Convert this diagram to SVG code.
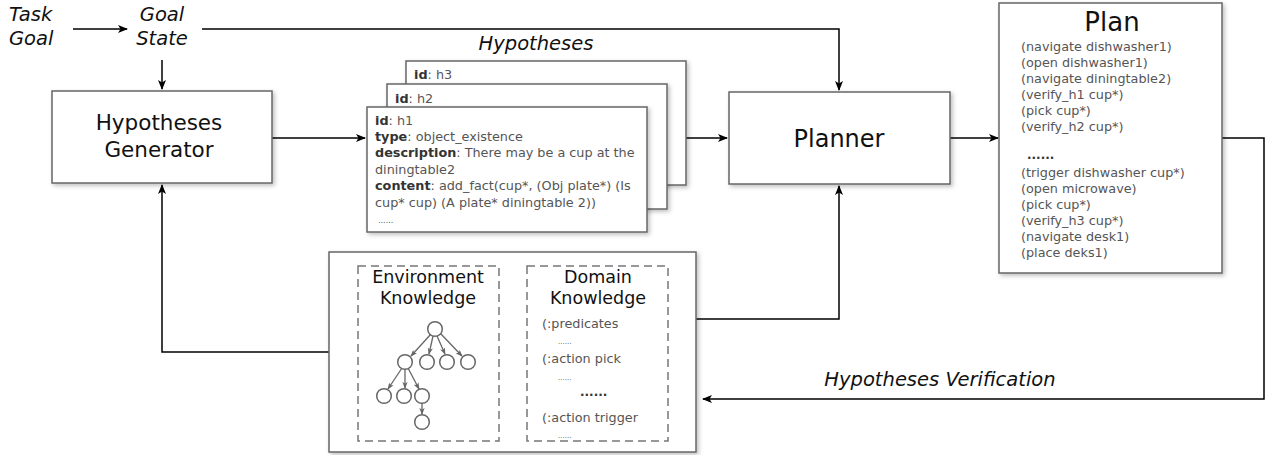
<svg xmlns="http://www.w3.org/2000/svg" width="1268" height="455" viewBox="0 0 1268 455">
<style>
text{font-family:"DejaVu Sans","Noto Sans",sans-serif;fill:#111}
.box{fill:#fff;stroke:#666;stroke-width:1.5;filter:url(#sh)}
.dash{fill:none;stroke:#777;stroke-width:1.5;stroke-dasharray:8,5}
.conn{fill:none;stroke:#000;stroke-width:1.5}
.it{font-style:italic;font-size:19.5px}
.big{font-size:21.5px;text-anchor:middle}
.mid{font-size:17.5px;text-anchor:middle}
.sm{font-size:12.8px;fill:#555}
.bold{font-weight:bold;fill:#333}
.tree circle{fill:#fff;stroke:#666;stroke-width:1.5}
.tree line{stroke:#666;stroke-width:1.3}
</style>
<defs>
<filter id="sh" x="-10%" y="-10%" width="130%" height="130%">
<feDropShadow dx="2" dy="2" stdDeviation="2" flood-color="#000" flood-opacity="0.25"/>
</filter>
<marker id="ar" viewBox="0 0 10 8" refX="9" refY="4" markerWidth="10" markerHeight="8" markerUnits="userSpaceOnUse" orient="auto">
<path d="M0,0 L10,4 L0,8 L2.5,4 z" fill="#000"/>
</marker>
<marker id="ag" viewBox="0 0 8 6" refX="7" refY="3" markerWidth="7" markerHeight="6" markerUnits="userSpaceOnUse" orient="auto">
<path d="M0,0 L8,3 L0,6 L2,3 z" fill="#666"/>
</marker>
</defs>

<g id="connectors">
<path class="conn" d="M73,29 H127" marker-end="url(#ar)"/>
<path class="conn" d="M162,60 V89" marker-end="url(#ar)"/>
<path class="conn" d="M202,29 H839 V90" marker-end="url(#ar)"/>
<path class="conn" d="M272,138 H365" marker-end="url(#ar)"/>
<path class="conn" d="M686,138 H727" marker-end="url(#ar)"/>
<path class="conn" d="M950,138 H998" marker-end="url(#ar)"/>
<path class="conn" d="M1222,138 H1264 V399 H703" marker-end="url(#ar)"/>
<path class="conn" d="M696,319 H839 V186" marker-end="url(#ar)"/>
<path class="conn" d="M329,352 H162 V185" marker-end="url(#ar)"/>
</g>

<g id="labels">
<text class="it" x="9" y="21">Task</text>
<text class="it" x="9" y="45">Goal</text>
<text class="it" x="162" y="21" text-anchor="middle">Goal</text>
<text class="it" x="162" y="45" text-anchor="middle">State</text>
<text class="it" x="536" y="50" text-anchor="middle">Hypotheses</text>
<text class="it" x="940" y="386" text-anchor="middle">Hypotheses Verification</text>
</g>

<g id="generator">
<rect class="box" x="52" y="91" width="220" height="92"/>
<text class="big" x="159" y="130">Hypotheses</text>
<text class="big" x="159" y="157">Generator</text>
</g>

<g id="h3">
<rect class="box" x="406" y="61" width="280" height="124"/>
<text class="sm" x="414" y="79"><tspan class="bold">id</tspan>: h3</text>
</g>
<g id="h2">
<rect class="box" x="387" y="84" width="280" height="125"/>
<text class="sm" x="395" y="103"><tspan class="bold">id</tspan>: h2</text>
</g>
<g id="h1">
<rect class="box" x="367" y="107" width="280" height="125"/>
<text class="sm" x="375" y="125"><tspan class="bold">id</tspan>: h1</text>
<text class="sm" x="375" y="141"><tspan class="bold">type</tspan>: object_existence</text>
<text class="sm" x="375" y="157"><tspan class="bold">description</tspan>: There may be a cup at the</text>
<text class="sm" x="375" y="174">diningtable2</text>
<text class="sm" x="375" y="190"><tspan class="bold">content</tspan>: add_fact(cup*, (Obj plate*) (Is</text>
<text class="sm" x="375" y="207">cup* cup) (A plate* diningtable 2))</text>
<text class="sm" x="378" y="223" style="font-size:8px">......</text>
</g>

<g id="planner">
<rect class="box" x="729" y="92" width="221" height="92"/>
<text class="big" x="839" y="147" style="font-size:24px">Planner</text>
</g>

<g id="plan">
<rect class="box" x="999" y="3" width="223" height="270"/>
<text x="1112" y="31" style="font-size:26px;text-anchor:middle">Plan</text>
<text class="sm" x="1021" y="51">(navigate dishwasher1)</text>
<text class="sm" x="1021" y="67">(open dishwasher1)</text>
<text class="sm" x="1021" y="83">(navigate diningtable2)</text>
<text class="sm" x="1021" y="99">(verify_h1 cup*)</text>
<text class="sm" x="1021" y="115">(pick cup*)</text>
<text class="sm" x="1021" y="131">(verify_h2 cup*)</text>
<text class="bold" x="1027" y="159" style="font-size:12px">......</text>
<text class="sm" x="1021" y="177">(trigger dishwasher cup*)</text>
<text class="sm" x="1021" y="193">(open microwave)</text>
<text class="sm" x="1021" y="209">(pick cup*)</text>
<text class="sm" x="1021" y="225">(verify_h3 cup*)</text>
<text class="sm" x="1021" y="241">(navigate desk1)</text>
<text class="sm" x="1021" y="257">(place deks1)</text>
</g>

<g id="knowledge">
<rect class="box" x="329" y="252" width="367" height="200"/>
<rect class="dash" x="358" y="266" width="141" height="175"/>
<rect class="dash" x="527" y="266" width="141" height="175"/>
<text class="mid" x="428" y="283">Environment</text>
<text class="mid" x="428" y="304">Knowledge</text>
<text class="mid" x="598" y="283">Domain</text>
<text class="mid" x="598" y="304">Knowledge</text>
<text class="sm" x="542" y="328">(:predicates</text>
<text class="sm" x="558" y="344" style="font-size:7px">......</text>
<text class="sm" x="542" y="363">(:action pick</text>
<text class="sm" x="558" y="380" style="font-size:7px">......</text>
<text class="bold" x="580" y="396" style="font-size:12px">......</text>
<text class="sm" x="542" y="422">(:action trigger</text>
<text class="sm" x="558" y="438" style="font-size:7px">......</text>
<g class="tree">
<line x1="431" y1="334" x2="411" y2="356" marker-end="url(#ag)"/>
<line x1="433" y1="336" x2="429" y2="354" marker-end="url(#ag)"/>
<line x1="437" y1="336" x2="445" y2="354" marker-end="url(#ag)"/>
<line x1="440" y1="333" x2="462" y2="356" marker-end="url(#ag)"/>
<line x1="402" y1="368" x2="388" y2="389" marker-end="url(#ag)"/>
<line x1="405" y1="369" x2="405" y2="388" marker-end="url(#ag)"/>
<line x1="408" y1="368" x2="419" y2="389" marker-end="url(#ag)"/>
<line x1="422" y1="403" x2="422" y2="414" marker-end="url(#ag)"/>
<circle cx="435" cy="329" r="7.3"/>
<circle cx="405" cy="362" r="7.3"/>
<circle cx="427" cy="362" r="7.3"/>
<circle cx="447" cy="362" r="7.3"/>
<circle cx="468" cy="362" r="7.3"/>
<circle cx="384" cy="396" r="7.3"/>
<circle cx="404" cy="396" r="7.3"/>
<circle cx="422" cy="396" r="7.3"/>
<circle cx="422" cy="422" r="7.3"/>
</g>
</g>
</svg>
